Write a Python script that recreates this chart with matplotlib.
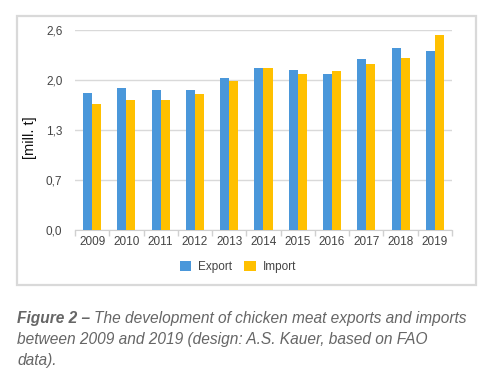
import numpy as np
import matplotlib.pyplot as plt
from matplotlib.patches import Rectangle

years = ['2009', '2010', '2011', '2012', '2013', '2014', '2015', '2016', '2017', '2018', '2019']
export = [1.78, 1.85, 1.82, 1.82, 1.98, 2.10, 2.08, 2.03, 2.22, 2.36, 2.33]
imports = [1.64, 1.69, 1.69, 1.76, 1.94, 2.10, 2.03, 2.06, 2.16, 2.23, 2.54]
yticks = [0, 0.65, 1.3, 1.95, 2.6]
ytick_labels = ['0,0', '0,7', '1,3', '2,0', '2,6']

plt.rcParams['font.family'] = ['Liberation Sans', 'DejaVu Sans']

fig = plt.figure(figsize=(4.93, 3.81), dpi=100)
ax = fig.add_axes([75/493, 151.5/381, 377/493, 199.5/381])

x = np.arange(len(years))
w = 0.265
ax.bar(x - w/2, export, w, color='#4a97da', label='Export', zorder=3)
ax.bar(x + w/2, imports, w, color='#ffc000', label='Import', zorder=3)

ax.set_xlim(-0.5, len(years) - 0.5)
ax.set_ylim(0, 2.6)
ax.set_yticks(yticks)
ax.set_yticklabels(ytick_labels)
ax.set_xticks(x)
ax.set_xticklabels(years)
ax.set_xticks(np.arange(len(years) + 1) - 0.5, minor=True)
ax.tick_params(axis='x', which='major', length=0, labelsize=8.5, labelcolor='#444444', pad=5)
ax.tick_params(axis='x', which='minor', length=4, color='#d0d0d0', width=1)
ax.tick_params(axis='y', length=0, labelsize=8.5, labelcolor='#444444', pad=9)
ax.grid(axis='y', color='#d9d9d9', linewidth=1, zorder=0)
for s in ['top', 'right', 'left']:
    ax.spines[s].set_visible(False)
ax.spines['bottom'].set_color('#d0d0d0')
ax.set_ylabel('[mill. t]', fontsize=10.5, color='#111111')
ax.yaxis.set_label_coords(-0.1, 0.46)

leg = fig.legend(*ax.get_legend_handles_labels(), loc='center', bbox_to_anchor=(238/493, 1 - 267/381),
                 ncol=2, frameon=False, fontsize=8.5, handlelength=1.0, handleheight=1.0,
                 handletextpad=0.6, columnspacing=1.0, labelcolor='#444444')

# outer box
fig.patches.append(Rectangle((17/493, 1 - 285/381), 459/493, 269/381, transform=fig.transFigure,
                             fill=False, edgecolor='#d9d9d9', linewidth=1.6))

cap = dict(fontsize=11.2, color='#666666', style='italic', va='baseline')
t1 = fig.text(17/493, 1 - 323/381, 'Figure 2 \u2013 ', weight='bold', **cap)
ax.annotate('The development of chicken meat exports and imports', xy=(1, 0),
            xycoords=t1, va='bottom', ha='left', fontsize=11.2, color='#666666', style='italic')
fig.text(17/493, 1 - 344/381, 'between 2009 and 2019 (design: A.S. Kauer, based on FAO', **cap)
fig.text(17/493, 1 - 365/381, 'data).', **cap)

fig.savefig('out.png', dpi=100)
